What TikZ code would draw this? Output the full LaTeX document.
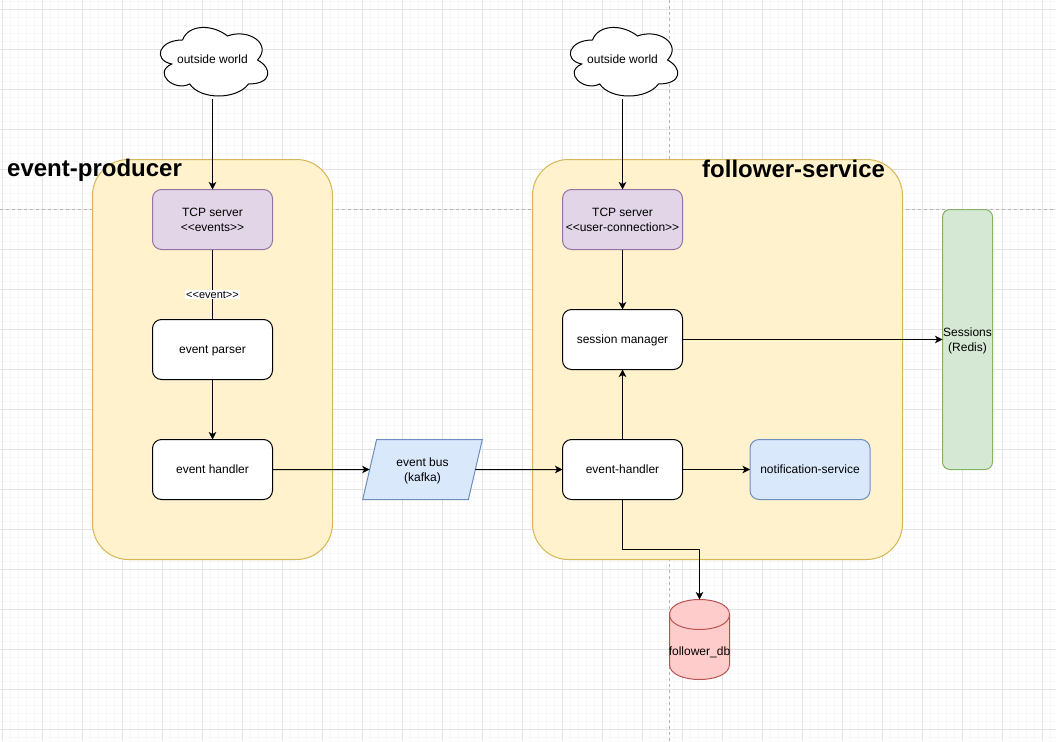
\documentclass[tikz,border=0pt]{standalone}
\usepackage{fontspec}
\setmainfont{Liberation Sans}
\usepackage{xcolor}
\usetikzlibrary{positioning,arrows.meta,shapes.geometric}

\definecolor{zoneFill}{HTML}{FFF2CC}
\definecolor{zoneLine}{HTML}{D6B656}
\definecolor{tcpFill}{HTML}{E1D5E7}
\definecolor{tcpLine}{HTML}{9673A6}
\definecolor{blueFill}{HTML}{DAE8FC}
\definecolor{blueLine}{HTML}{6C8EBF}
\definecolor{greenFill}{HTML}{D5E8D4}
\definecolor{greenLine}{HTML}{82B366}
\definecolor{dbFill}{HTML}{FFCCCC}
\definecolor{dbLine}{HTML}{B85450}

\tikzset{
  base/.style={draw, line width=1pt, align=center, inner sep=0pt, outer sep=0pt,
    font=\fontsize{12}{15}\selectfont},
  oneline/.style={execute at begin node={\rule[-3pt]{0pt}{14pt}}},
  zone/.style={base, draw=zoneLine, fill=zoneFill, rounded corners=36pt, minimum width=#1, minimum height=400pt},
  blockbase/.style={base, fill=white, rounded corners=9pt, minimum width=120pt, minimum height=60pt},
  block/.style={blockbase, oneline},
  tcpbox/.style={blockbase, draw=tcpLine, fill=tcpFill},
  title/.style={font=\fontsize{24}{28}\selectfont\bfseries, inner sep=0pt, anchor=west},
  link/.style={line width=1pt, -{Stealth[length=7.5pt,width=7.5pt,inset=2pt]}}
}

\begin{document}
\begin{tikzpicture}[x=1pt,y=-1pt]
  \useasboundingbox (0,0) rectangle (1056,741);
  \fill[white] (0,0) rectangle (1056,741);

  % Grid
  \foreach \x in {2.5,10.5,...,1056}
    \draw[black!3, line width=0.8pt] (\x,0) -- (\x,741);
  \foreach \y in {1.5,9.5,...,741}
    \draw[black!3, line width=0.8pt] (0,\y) -- (1056,\y);
  \foreach \x in {2.5,42.5,...,1056}
    \draw[black!11, line width=0.8pt] (\x,0) -- (\x,741);
  \foreach \y in {9.5,49.5,...,741}
    \draw[black!11, line width=0.8pt] (0,\y) -- (1056,\y);
  \draw[black!30, dashed, line width=0.8pt] (669.5,0) -- (669.5,741);
  \draw[black!30, dashed, line width=0.8pt] (0,209.5) -- (1056,209.5);

  % Service zones
  \node[zone=240pt] (producer) at (212.5,359.5) {};
  \node[zone=370pt] (follower) at (717.5,359.5) {};
  \node[title] (producerTitle) at (7,170.5) {event-producer};
  \node[title] (followerTitle) at (702,168.5) {follower-service};

  % Clouds
  \foreach \n/\x in {cloudA/212.5,cloudB/622.5} {
    \draw[line width=1pt, fill=white, shift={(\x-60,20)}, x=1.2pt, y=-0.8pt]
      (25,25) .. controls (5,25) and (0,50) .. (16,55)
      .. controls (0,66) and (18,90) .. (31,80)
      .. controls (40,100) and (70,100) .. (80,80)
      .. controls (100,80) and (100,60) .. (87.5,50)
      .. controls (100,30) and (80,10) .. (62.5,20)
      .. controls (50,5) and (30,5) .. (25,25) -- cycle;
    \node[base, oneline, draw=none, minimum width=120pt, minimum height=78pt] (\n) at (\x,60) {outside world};
  }

  % Event producer
  \node[tcpbox] (tcpEvents) at (212.5,219.5) {TCP server\\{<}{<}events{>}{>}};
  \node[block] (parser) at (212.5,349.5) {event parser};
  \node[block] (handler) at (212.5,469.5) {event handler};

  % Event bus
  \node[base, draw=blueLine, fill=blueFill, trapezium, trapezium stretches=true,
    trapezium left angle=71.57, trapezium right angle=108.43,
    minimum width=120pt, minimum height=60pt] (bus) at (422.5,469.5) {event bus\\\smash{(kafka)}};

  % Follower service
  \node[tcpbox] (tcpUsers) at (622.5,219.5) {TCP server\\{<}{<}user-connection{>}{>}};
  \node[block] (session) at (622.5,339.5) {session manager};
  \node[block] (followerHandler) at (622.5,469.5) {event-handler};
  \node[block, draw=blueLine, fill=blueFill] (notify) at (810,469.5) {notification-service};

  % Sessions store
  \node[base, draw=greenLine, fill=greenFill, rounded corners=7.5pt, minimum width=50pt, minimum height=260pt] (redis) at (967.5,339.5) {Sessions\\\smash{(Redis)}};

  % Database
  \draw[line width=1pt, draw=dbLine, fill=dbFill]
    (669.5,614.5) .. controls (669.5,594.5) and (729.5,594.5) .. (729.5,614.5)
    -- (729.5,664.5) .. controls (729.5,684.5) and (669.5,684.5) .. (669.5,664.5) -- cycle;
  \draw[line width=1pt, draw=dbLine]
    (669.5,614.5) .. controls (669.5,634.5) and (729.5,634.5) .. (729.5,614.5);
  \node[base, draw=none, minimum width=60pt, minimum height=80pt] (db) at (699.5,639.5) {};
  \node[base, oneline, draw=none] (dbLabel) at (699.5,651.5) {follower\_db};

  % Arrows
  \draw[link] (cloudA) -- (tcpEvents);
  \draw[link] (cloudB) -- (tcpUsers);
  \draw[link] (parser) -- (handler);
  \draw[link] (handler) -- (bus);
  \draw[link] (bus) -- (followerHandler);
  \draw[link] (tcpUsers) -- (session);
  \draw[link] (followerHandler) -- (session);
  \draw[link] (followerHandler) -- (notify);
  \draw[link] (session) -- (redis);
  \draw[link] (followerHandler.south) -- ++(0,50) -| (db.north);
  \draw[line width=1pt] (tcpEvents) -- (parser)
    node[pos=0.645, fill=white, inner sep=1pt, font=\fontsize{11}{13}\selectfont] (eventLabel) {{<}{<}event{>}{>}};
\end{tikzpicture}
\end{document}
